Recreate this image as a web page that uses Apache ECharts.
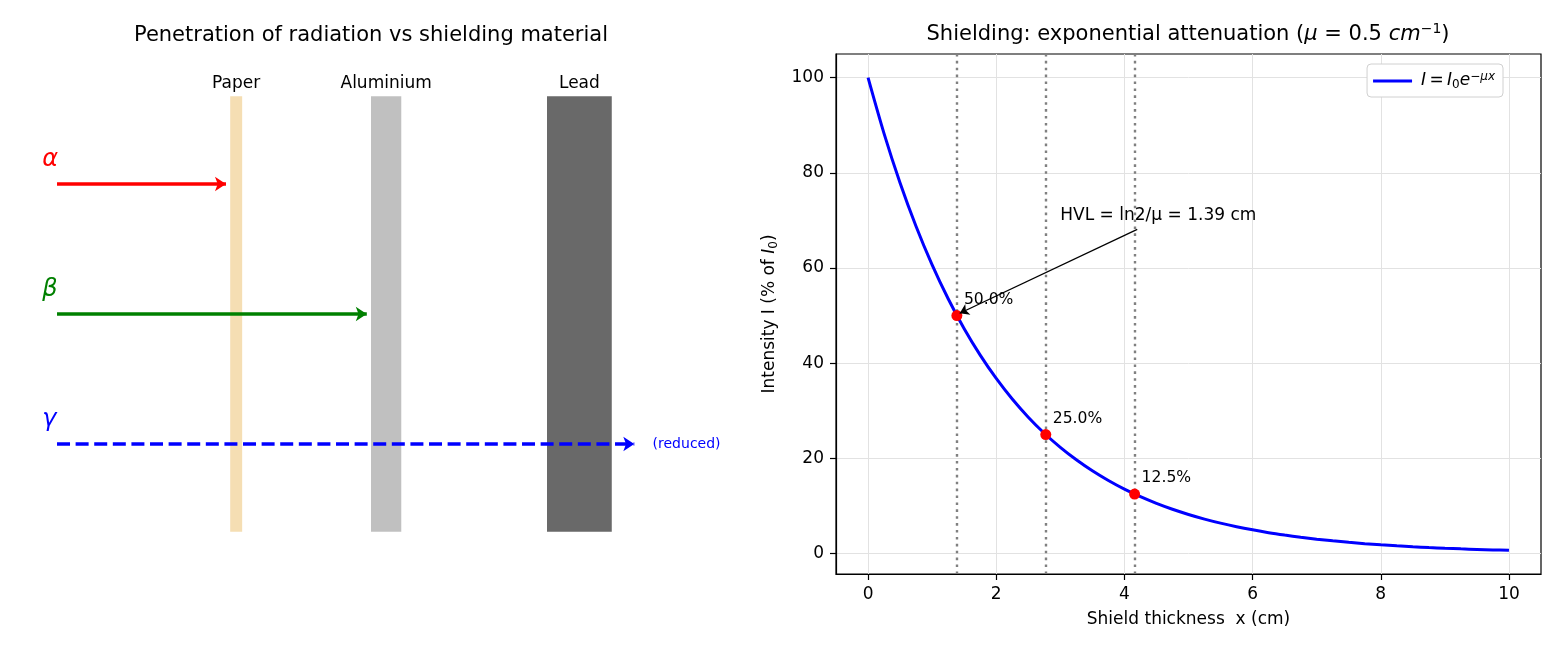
<!DOCTYPE html>
<html>
<head>
<meta charset="utf-8">
<script src="https://cdn.jsdelivr.net/npm/echarts@6/dist/echarts.min.js"></script>
<style>
html, body { margin: 0; padding: 0; background: #fff; }
#chart { width: 1560px; height: 650px; }
</style>
</head>
<body>
<div id="chart"></div>
<script>
// ---- left panel (diagram units: x 0..10, y 0..8) ----
var shieldNames = ['Paper', 'Aluminium', 'Lead'];
var shieldLeft = [3.0, 5.0, 7.5];
var shieldRight = [3.17, 5.43, 8.42];
var shieldBottom = 0.65;
var shieldTop = 7.35;
var shieldLabelY = 7.55;

var rayNames = ['α', 'β', 'γ'];
var rayY = [6, 4, 2];
var rayStart = [0.54, 0.54, 0.54];
var rayEnd = [2.94, 4.94, 8.74];
var rayLabelX = 0.33;
var rayLabelY = [6.38, 4.38, 2.38];
var reducedNote = ['(reduced)', 9.0, 2.0];

// ---- right panel ----
var thickness = [0, 0.25, 0.5, 0.75, 1, 1.25, 1.5, 1.75, 2, 2.25, 2.5, 2.75, 3, 3.25, 3.5, 3.75,
  4, 4.25, 4.5, 4.75, 5, 5.25, 5.5, 5.75, 6, 6.25, 6.5, 6.75, 7, 7.25, 7.5, 7.75,
  8, 8.25, 8.5, 8.75, 9, 9.25, 9.5, 9.75, 10];
var intensity = [100, 88.25, 77.88, 68.73, 60.65, 53.53, 47.24, 41.69, 36.79, 32.47, 28.65, 25.28,
  22.31, 19.69, 17.38, 15.34, 13.53, 11.94, 10.54, 9.30, 8.21, 7.24, 6.39, 5.64, 4.98, 4.39,
  3.88, 3.42, 3.02, 2.67, 2.35, 2.07, 1.83, 1.62, 1.43, 1.26, 1.11, 0.98, 0.87, 0.76, 0.67];
var hvlX = [1.386, 2.773, 4.159];
var hvlY = [50, 25, 12.5];
var hvlText = ['50.0%', '25.0%', '12.5%'];
var xTicks = [0, 2, 4, 6, 8, 10];
var yTicks = [0, 20, 40, 60, 80, 100];
var noteText = 'HVL = ln2/μ = 1.39 cm';
var notePos = [3.0, 71.1];
var noteArrow = [[4.2, 68.1], [1.43, 50.5]];

var FONT = '"DejaVu Sans", Verdana, sans-serif';
var shieldColors = ['#f5deb3', '#c0c0c0', '#696969'];
var rayColors = ['#ff0000', '#008000', '#0000ff'];

var chart = echarts.init(document.getElementById('chart'));

var rich = {
  it: { fontFamily: FONT, fontStyle: 'italic', fontSize: 17, color: '#000' },
  sub: { fontFamily: FONT, fontStyle: 'normal', fontSize: 12, verticalAlign: 'bottom', lineHeight: 12, color: '#000' },
  supit: { fontFamily: FONT, fontStyle: 'italic', fontSize: 12, verticalAlign: 'top', lineHeight: 12, color: '#000' },
  sup: { fontFamily: FONT, fontSize: 14, verticalAlign: 'top', lineHeight: 14, color: '#000' },
  tit: { fontFamily: FONT, fontStyle: 'italic', fontSize: 21, color: '#000' }
};

var rayLines = rayNames.map(function (n, i) {
  return {
    coords: [[rayStart[i], rayY[i]], [rayEnd[i], rayY[i]]],
    lineStyle: { color: rayColors[i], width: 3.5, opacity: 1, type: i === 2 ? [13, 5.6] : 'solid' }
  };
});

chart.setOption({
  animation: false,
  backgroundColor: '#fff',
  textStyle: { fontFamily: FONT },
  title: [
    {
      text: 'Penetration of radiation vs shielding material',
      left: 371, top: 25, textAlign: 'center', padding: 0,
      textStyle: { fontFamily: FONT, fontSize: 21, fontWeight: 'normal', color: '#000' }
    },
    {
      text: 'Shielding: exponential attenuation ({tit|μ} = 0.5 {tit|cm}{sup|−1})',
      left: 1188, top: 22, textAlign: 'center', padding: 0,
      textStyle: { fontFamily: FONT, fontSize: 21, fontWeight: 'normal', color: '#000', lineHeight: 26, rich: rich }
    }
  ],
  legend: {
    data: ['curve'],
    right: 57, top: 64,
    orient: 'vertical',
    backgroundColor: '#fff',
    borderColor: '#d0d0d0', borderWidth: 1, borderRadius: 4,
    padding: [7, 8, 6, 6],
    icon: 'rect', itemWidth: 39, itemHeight: 3,
    itemGap: 4,
    formatter: function () { return '{it|I}\u2009=\u2009{it|I}{sub|0}{it|e}{supit|−μx}'; },
    textStyle: { fontFamily: FONT, fontSize: 17, color: '#000', lineHeight: 20, padding: [0, 0, 0, 4], rich: rich }
  },
  grid: [
    { left: 19, top: 54, width: 704, height: 520, show: false },
    { left: 836, top: 54, width: 705, height: 520, show: true, borderColor: '#000', borderWidth: 1.2, backgroundColor: 'transparent' }
  ],
  xAxis: [
    { gridIndex: 0, type: 'value', min: 0, max: 10, show: false },
    {
      gridIndex: 1, type: 'value', min: -0.5, max: 10.5,
      name: 'Shield thickness  x (cm)', nameLocation: 'middle', nameGap: 37,
      nameTextStyle: { fontFamily: FONT, fontSize: 17, color: '#000' },
      axisLine: { onZero: false, lineStyle: { color: '#000', width: 1.2 } },
      axisTick: { customValues: xTicks, length: 6, lineStyle: { color: '#000', width: 1.2 } },
      axisLabel: { customValues: xTicks, margin: 12, fontFamily: FONT, fontSize: 17, color: '#000' },
      splitLine: { show: true, lineStyle: { color: '#e2e2e2', width: 1 } }
    }
  ],
  yAxis: [
    { gridIndex: 0, type: 'value', min: 0, max: 8, show: false },
    {
      gridIndex: 1, type: 'value', min: -4.3, max: 104.97,
      name: 'Intensity I (% of {it|I}{sub|0})', nameLocation: 'middle', nameGap: 56,
      nameTextStyle: { fontFamily: FONT, fontSize: 17, color: '#000', lineHeight: 20, rich: rich },
      axisLine: { onZero: false, lineStyle: { color: '#000', width: 1.2 } },
      axisTick: { customValues: yTicks, length: 6, lineStyle: { color: '#000', width: 1.2 } },
      axisLabel: { customValues: yTicks, margin: 12, fontFamily: FONT, fontSize: 17, color: '#000' },
      splitLine: { show: true, lineStyle: { color: '#e2e2e2', width: 1 } }
    }
  ],
  series: [
    {
      type: 'custom', xAxisIndex: 0, yAxisIndex: 0, silent: true,
      data: shieldNames.map(function (n, i) { return [shieldLeft[i], shieldRight[i], i]; }),
      renderItem: function (params, api) {
        var i = api.value(2);
        var p0 = api.coord([api.value(0), shieldTop]);
        var p1 = api.coord([api.value(1), shieldBottom]);
        var lab = api.coord([(api.value(0) + api.value(1)) / 2, shieldLabelY]);
        return {
          type: 'group',
          children: [
            { type: 'rect', shape: { x: p0[0], y: p0[1], width: p1[0] - p0[0], height: p1[1] - p0[1] },
              style: { fill: shieldColors[i] } },
            { type: 'text', x: lab[0], y: lab[1],
              style: { text: shieldNames[i], fill: '#000', font: '17px ' + FONT, align: 'center', verticalAlign: 'middle' } }
          ]
        };
      },
      z: 1
    },
    {
      type: 'lines', coordinateSystem: 'cartesian2d', xAxisIndex: 0, yAxisIndex: 0,
      symbol: ['none', 'arrow'], symbolSize: 11, silent: true,
      lineStyle: { opacity: 1 },
      data: rayLines, z: 3
    },
    {
      type: 'scatter', xAxisIndex: 0, yAxisIndex: 0, symbolSize: 0, silent: true,
      itemStyle: { opacity: 1 },
      data: rayNames.map(function (n, i) { return [rayLabelX, rayLabelY[i], i]; }),
      label: {
        show: true, position: 'inside', align: 'left', verticalAlign: 'middle',
        fontFamily: FONT, fontSize: 24, fontStyle: 'italic',
        formatter: function (p) { return '{c' + p.value[2] + '|' + rayNames[p.value[2]] + '}'; },
        rich: {
          c0: { color: rayColors[0], fontSize: 24, fontStyle: 'italic', fontFamily: FONT },
          c1: { color: rayColors[1], fontSize: 24, fontStyle: 'italic', fontFamily: FONT },
          c2: { color: rayColors[2], fontSize: 24, fontStyle: 'italic', fontFamily: FONT }
        }
      }
    },
    {
      type: 'scatter', xAxisIndex: 0, yAxisIndex: 0, symbolSize: 0, silent: true,
      itemStyle: { opacity: 1 },
      data: [[reducedNote[1], reducedNote[2]]],
      label: {
        show: true, position: 'inside', align: 'left', verticalAlign: 'middle',
        formatter: reducedNote[0], fontFamily: FONT, fontSize: 14, color: '#0000ff'
      }
    },
    {
      name: 'curve', type: 'line', xAxisIndex: 1, yAxisIndex: 1,
      data: thickness.map(function (x, i) { return [x, intensity[i]]; }),
      showSymbol: false, symbol: 'none', smooth: 0.3,
      lineStyle: { color: '#0000ff', width: 3 },
      itemStyle: { color: '#0000ff' },
      markLine: {
        silent: true, symbol: 'none', label: { show: false },
        lineStyle: { color: '#808080', width: 2.4, type: [2.6, 4.3], opacity: 1 },
        data: hvlX.map(function (x) { return { xAxis: x }; })
      },
      z: 3
    },
    {
      type: 'scatter', xAxisIndex: 1, yAxisIndex: 1, symbolSize: 11, silent: true,
      itemStyle: { color: '#ff0000', opacity: 1 },
      data: hvlX.map(function (x, i) { return [x, hvlY[i], i]; }),
      label: {
        show: true, position: 'right', distance: 1.5, offset: [0, -16],
        formatter: function (p) { return hvlText[p.value[2]]; },
        fontFamily: FONT, fontSize: 15.6, color: '#000'
      },
      z: 5
    },
    {
      type: 'lines', coordinateSystem: 'cartesian2d', xAxisIndex: 1, yAxisIndex: 1,
      symbol: ['none', 'arrow'], symbolSize: 9, silent: true,
      lineStyle: { color: '#000', width: 1.3, opacity: 1 },
      data: [{ coords: noteArrow }], z: 6
    },
    {
      type: 'scatter', xAxisIndex: 1, yAxisIndex: 1, symbolSize: 0, silent: true,
      itemStyle: { opacity: 1 },
      data: [notePos],
      label: {
        show: true, position: 'inside', align: 'left', verticalAlign: 'middle',
        formatter: noteText, fontFamily: FONT, fontSize: 17, color: '#000'
      }
    }
  ]
});
</script>
</body>
</html>
